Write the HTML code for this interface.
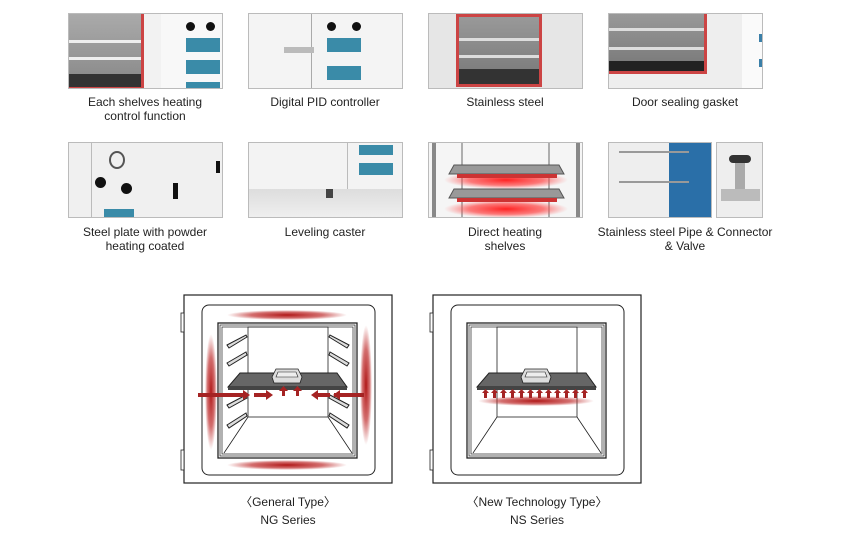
<!DOCTYPE html>
<html><head><meta charset="utf-8"><style>
body{margin:0;background:#fff;width:860px;height:533px;position:relative;overflow:hidden;font-family:"Liberation Sans","Noto Sans CJK KR",sans-serif}
.im{position:absolute;width:155px;height:76px;border:1px solid #bbb;box-sizing:border-box;background:#eee;overflow:hidden}
.cap{position:absolute;width:200px;text-align:center;font-size:12px;line-height:14px;color:#222}
.a{position:absolute}
</style></head><body>
<!-- Row 1 -->
<div class="im" style="left:68px;top:13px;background:#f2f2f2">
 <div class="a" style="left:0;top:0;width:75px;height:76px;background:#c44;"></div>
 <div class="a" style="left:0;top:0;width:72px;height:73px;background:linear-gradient(#aaa,#888)"></div>
 <div class="a" style="left:0;top:26px;width:72px;height:3px;background:#eee"></div>
 <div class="a" style="left:0;top:43px;width:72px;height:3px;background:#eee"></div>
 <div class="a" style="left:0;top:60px;width:72px;height:13px;background:#333"></div>
 <div class="a" style="left:92px;top:0;width:63px;height:76px;background:#f8f8f8"></div>
 <div class="a" style="left:117px;top:8px;width:9px;height:9px;border-radius:50%;background:#111"></div>
 <div class="a" style="left:137px;top:8px;width:9px;height:9px;border-radius:50%;background:#111"></div>
 <div class="a" style="left:117px;top:24px;width:34px;height:14px;background:#3a8ba8"></div>
 <div class="a" style="left:117px;top:46px;width:34px;height:14px;background:#3a8ba8"></div>
 <div class="a" style="left:117px;top:68px;width:34px;height:8px;background:#3a8ba8"></div>
</div>
<div class="im" style="left:248px;top:13px;background:#f4f4f4">
 <div class="a" style="left:62px;top:0;width:1px;height:76px;background:#aaa"></div>
 <div class="a" style="left:35px;top:33px;width:30px;height:6px;background:#bbb"></div>
 <div class="a" style="left:78px;top:8px;width:9px;height:9px;border-radius:50%;background:#111"></div>
 <div class="a" style="left:103px;top:8px;width:9px;height:9px;border-radius:50%;background:#111"></div>
 <div class="a" style="left:78px;top:24px;width:34px;height:14px;background:#3a8ba8"></div>
 <div class="a" style="left:78px;top:52px;width:34px;height:14px;background:#3a8ba8"></div>
</div>
<div class="im" style="left:428px;top:13px;background:#e6e6e6">
 <div class="a" style="left:27px;top:0;width:86px;height:73px;background:#c44"></div>
 <div class="a" style="left:30px;top:3px;width:80px;height:67px;background:linear-gradient(#999,#777)"></div>
 <div class="a" style="left:30px;top:24px;width:80px;height:3px;background:#ddd"></div>
 <div class="a" style="left:30px;top:41px;width:80px;height:3px;background:#ddd"></div>
 <div class="a" style="left:30px;top:55px;width:80px;height:15px;background:#333"></div>
</div>
<div class="im" style="left:608px;top:13px;background:#eee">
 <div class="a" style="left:0;top:0;width:98px;height:60px;background:#c44"></div>
 <div class="a" style="left:0;top:0;width:95px;height:57px;background:linear-gradient(#999,#777)"></div>
 <div class="a" style="left:0;top:14px;width:95px;height:3px;background:#ddd"></div>
 <div class="a" style="left:0;top:33px;width:95px;height:3px;background:#ddd"></div>
 <div class="a" style="left:0;top:47px;width:95px;height:10px;background:#222"></div>
 <div class="a" style="left:133px;top:0;width:22px;height:76px;background:#fafafa"></div>
 <div class="a" style="left:150px;top:20px;width:4px;height:8px;background:#3a7fa8"></div>
 <div class="a" style="left:150px;top:45px;width:4px;height:8px;background:#3a7fa8"></div>
</div>
<div class="cap" style="left:45px;top:95px">Each shelves heating<br>control function</div>
<div class="cap" style="left:225px;top:95px">Digital PID controller</div>
<div class="cap" style="left:405px;top:95px">Stainless steel</div>
<div class="cap" style="left:585px;top:95px">Door sealing gasket</div>
<!-- Row 2 -->
<div class="im" style="left:68px;top:142px;background:#f0f0f0">
 <div class="a" style="left:22px;top:0;width:1px;height:76px;background:#bbb"></div>
 <div class="a" style="left:40px;top:8px;width:12px;height:14px;border:2px solid #555;border-radius:50%"></div>
 <div class="a" style="left:26px;top:34px;width:11px;height:11px;border-radius:50%;background:#111"></div>
 <div class="a" style="left:52px;top:40px;width:11px;height:11px;border-radius:50%;background:#111"></div>
 <div class="a" style="left:35px;top:66px;width:30px;height:10px;background:#3a8ba8"></div>
 <div class="a" style="left:104px;top:40px;width:5px;height:16px;background:#111"></div>
 <div class="a" style="left:147px;top:18px;width:4px;height:12px;background:#111"></div>
</div>
<div class="im" style="left:248px;top:142px;background:#f3f3f3">
 <div class="a" style="left:0;top:46px;width:155px;height:30px;background:linear-gradient(#ddd,#f0f0f0)"></div>
 <div class="a" style="left:98px;top:0;width:1px;height:46px;background:#bbb"></div>
 <div class="a" style="left:110px;top:2px;width:34px;height:10px;background:#3a8ba8"></div>
 <div class="a" style="left:110px;top:20px;width:34px;height:12px;background:#3a8ba8"></div>
 <div class="a" style="left:77px;top:46px;width:7px;height:9px;background:#444"></div>
</div>
<div class="im" style="left:428px;top:142px;background:#f5f5f5">
<svg width="155" height="76" style="position:absolute;left:0;top:0">
 <defs><radialGradient id="hg"><stop offset="0" stop-color="#f22"/><stop offset=".6" stop-color="#f44" stop-opacity=".7"/><stop offset="1" stop-color="#f66" stop-opacity="0"/></radialGradient></defs>
 <rect x="3" y="0" width="4" height="76" fill="#888"/><rect x="147" y="0" width="4" height="76" fill="#888"/>
 <line x1="33" y1="0" x2="33" y2="76" stroke="#666"/><line x1="120" y1="0" x2="120" y2="76" stroke="#666"/>
 <ellipse cx="77" cy="37" rx="62" ry="9" fill="url(#hg)"/>
 <ellipse cx="77" cy="66" rx="62" ry="9" fill="url(#hg)"/>
 <polygon points="25,22 130,22 135,31 20,31" fill="#999" stroke="#555"/>
 <polygon points="25,46 130,46 135,55 20,55" fill="#999" stroke="#555"/>
 <g fill="#c33"><rect x="28" y="31" width="100" height="4"/><rect x="28" y="55" width="100" height="4"/></g>
</svg></div>
<div class="im" style="left:608px;top:142px;width:104px;background:#eee">
 <div class="a" style="left:60px;top:0;width:44px;height:76px;background:#2a6fa8"></div>
 <div class="a" style="left:10px;top:8px;width:70px;height:2px;background:#999"></div>
 <div class="a" style="left:10px;top:38px;width:70px;height:2px;background:#999"></div>
</div>
<div class="im" style="left:716px;top:142px;width:47px;background:#eee">
 <div class="a" style="left:12px;top:12px;width:22px;height:8px;border-radius:4px;background:#333"></div>
 <div class="a" style="left:18px;top:20px;width:10px;height:30px;background:#aaa"></div>
 <div class="a" style="left:4px;top:46px;width:39px;height:12px;background:#bbb"></div>
</div>
<div class="cap" style="left:45px;top:225px">Steel plate with powder<br>heating coated</div>
<div class="cap" style="left:225px;top:225px">Leveling caster</div>
<div class="cap" style="left:405px;top:225px">Direct heating<br>shelves</div>
<div class="cap" style="left:585px;top:225px;width:200px">Stainless steel Pipe &amp; Connector<br>&amp; Valve</div>
<!-- Diagrams -->
<svg width="860" height="533" style="position:absolute;left:0;top:0">
<defs>
 <radialGradient id="g"><stop offset="0" stop-color="#b01818"/><stop offset=".6" stop-color="#c03030" stop-opacity=".7"/><stop offset="1" stop-color="#c03030" stop-opacity="0"/></radialGradient>
 <g id="box" fill="none" stroke="#222">
  <rect x="0" y="0" width="208" height="188" stroke-width="1.2"/>
  <rect x="-3" y="18" width="3" height="19" fill="#fff" stroke-width=".8"/>
  <rect x="-3" y="155" width="3" height="20" fill="#fff" stroke-width=".8"/>
  <rect x="18" y="10" width="173" height="170" rx="7" stroke-width="1"/>
  <rect x="34" y="28" width="139" height="135" stroke-width="1.3"/>
  <rect x="36" y="30" width="135" height="131" stroke-width=".7"/>
  <rect x="38" y="32" width="131" height="127" stroke-width=".7"/>
  <rect x="64" y="32" width="80" height="90" stroke-width=".8"/>
  <line x1="64" y1="122" x2="40" y2="158" stroke-width=".8"/>
  <line x1="144" y1="122" x2="168" y2="158" stroke-width=".8"/>
 </g>
 <g id="shelf">
  <polygon points="56,78 153,78 163,92 44,92" fill="#666" stroke="#222"/>
  <rect x="44" y="92" width="119" height="3" fill="#444"/>
  <polygon points="88,82 92,74 114,74 118,82 116,88 90,88" fill="#ddd" stroke="#222" stroke-width=".8"/>
  <polygon points="94,77 112,77 114,82 92,82" fill="#eee" stroke="#222" stroke-width=".6"/>
 </g>
</defs>
<g transform="translate(184,295)">
 <use href="#box"/>
 <ellipse cx="103" cy="20" rx="60" ry="5" fill="url(#g)"/>
 <ellipse cx="103" cy="170" rx="60" ry="5" fill="url(#g)"/>
 <ellipse cx="27" cy="97" rx="6" ry="58" fill="url(#g)"/>
 <ellipse cx="182" cy="90" rx="6" ry="60" fill="url(#g)"/>
 <g stroke="#222" stroke-width="1" fill="#ddd">
  <polygon points="43,50 62,40 63,42 45,53"/><polygon points="43,68 62,57 63,60 45,71"/>
  <polygon points="43,110 62,100 63,103 45,113"/><polygon points="43,130 62,118 63,121 45,133"/>
  <polygon points="165,50 146,40 145,42 163,53"/><polygon points="165,68 146,57 145,60 163,71"/>
  <polygon points="165,110 146,100 145,103 163,113"/><polygon points="165,130 146,118 145,121 163,133"/>
 </g>
 <use href="#shelf"/>
 <g fill="#a52323">
  <rect x="32" y="98" width="27" height="4"/><polygon points="59,95 66,100 59,105"/>
  <rect x="14" y="98" width="18" height="4"/>
  <rect x="70" y="98" width="12" height="4"/><polygon points="82,95 89,100 82,105"/>
  <rect x="134" y="98" width="12" height="4"/><polygon points="134,95 127,100 134,105"/>
  <rect x="150" y="98" width="30" height="4"/><polygon points="156,95 149,100 156,105"/>
  <rect x="98" y="96" width="3" height="5"/><polygon points="95,96 99.5,91 104,96"/>
  <rect x="112" y="96" width="3" height="5"/><polygon points="109,96 113.5,91 118,96"/>
 </g>
</g>
<g transform="translate(433,295)">
 <use href="#box"/>
 <ellipse cx="103" cy="106" rx="58" ry="5" fill="url(#g)"/>
 <use href="#shelf"/>
 <g fill="#a52323">
  <g id="ar"><rect x="51" y="98" width="3" height="5"/><polygon points="49,98 52.5,94 56,98"/></g>
  <use href="#ar" x="9"/><use href="#ar" x="18"/><use href="#ar" x="27"/><use href="#ar" x="36"/><use href="#ar" x="45"/><use href="#ar" x="54"/><use href="#ar" x="63"/><use href="#ar" x="72"/><use href="#ar" x="81"/><use href="#ar" x="90"/><use href="#ar" x="99"/>
 </g>
</g>
</svg>
<div class="cap" style="left:188px;top:493px;font-size:12px;line-height:18px">〈General Type〉<br>NG Series</div>
<div class="cap" style="left:437px;top:493px;font-size:12px;line-height:18px">〈New Technology Type〉<br>NS Series</div>
</body></html>
